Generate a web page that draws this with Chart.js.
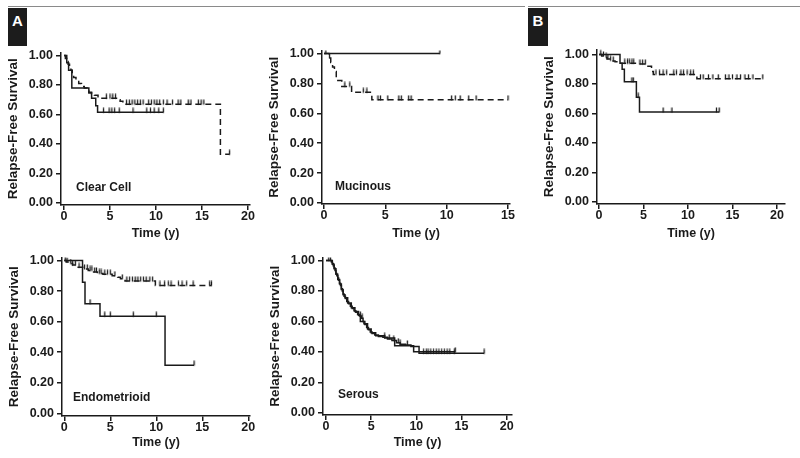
<!DOCTYPE html>
<html><head><meta charset="utf-8">
<script src="https://cdn.jsdelivr.net/npm/chart.js@4.4.1/dist/chart.umd.min.js"></script>
<style>
html,body{margin:0;padding:0;background:#fff;}
body{width:800px;height:458px;position:relative;overflow:hidden;font-family:"Liberation Sans",Arial,Helvetica,sans-serif;}
canvas{position:absolute;}
.rule{position:absolute;height:1px;background:#8a8a8a;top:6px;}
.tag{position:absolute;top:8px;width:19px;height:38px;background:#1c1c1c;color:#fff;font-weight:bold;font-size:15px;text-align:center;line-height:26px;}
.lbl{position:absolute;font-weight:bold;font-size:12px;color:#1a1a1a;line-height:14px;white-space:nowrap;}
</style></head><body>
<div class="rule" style="left:8px;width:517px;"></div>
<div class="rule" style="left:528px;width:272px;"></div>
<div class="tag" style="left:8px;">A</div>
<div class="tag" style="left:528px;width:20px;">B</div>
<canvas id="c1"></canvas><canvas id="c2"></canvas><canvas id="c3"></canvas><canvas id="c4"></canvas><canvas id="c5"></canvas>
<div class="lbl" style="left:76px;top:180px;">Clear Cell</div>
<div class="lbl" style="left:335px;top:179px;">Mucinous</div>
<div class="lbl" style="left:73px;top:390px;">Endometrioid</div>
<div class="lbl" style="left:338px;top:387px;">Serous</div>
<script>
// ---- tick labels ----
const xTicks20 = [0, 5, 10, 15, 20];
const xTicks15 = [0, 5, 10, 15];
const yTicks = [0, 0.2, 0.4, 0.6, 0.8, 1.0];

// ---- Clear Cell ----
const ccSolidT = [0, 0.3, 0.5, 0.85, 2.7, 3.0, 3.45, 3.65, 10.8];
const ccSolidS = [1.0, 0.95, 0.90, 0.78, 0.745, 0.71, 0.66, 0.615, 0.615];
const ccSolidC = [4.3, 4.9, 5.2, 5.5, 6.0, 7.5, 9.0, 9.4, 9.8, 10.3, 10.8];
const ccDashT = [0, 0.15, 0.3, 0.45, 0.6, 0.75, 0.9, 1.05, 1.3, 1.6, 1.9, 2.2, 2.5, 2.7, 3.0, 3.3, 3.7, 4.0, 5.8, 6.1, 6.4, 6.6, 17.0, 18.0];
const ccDashS = [1.0, 0.98, 0.96, 0.94, 0.92, 0.90, 0.87, 0.85, 0.83, 0.81, 0.79, 0.78, 0.76, 0.75, 0.74, 0.73, 0.72, 0.71, 0.70, 0.69, 0.68, 0.67, 0.33, 0.33];
const ccDashC = [4.6, 5.0, 5.3, 5.6, 6.8, 7.1, 7.4, 7.7, 8.0, 8.3, 8.6, 9.2, 9.5, 9.8, 10.1, 10.4, 10.8, 11.2, 11.8, 12.4, 12.7, 13.5, 13.8, 14.6, 14.9, 15.2, 18.0];

// ---- Mucinous ----
const mucSolidT = [0, 9.45];
const mucSolidS = [1.0, 1.0];
const mucSolidC = [9.45];
const mucDashT = [0, 0.4, 0.55, 0.7, 0.85, 1.0, 1.45, 2.25, 3.9, 15.0];
const mucDashS = [1.0, 0.97, 0.94, 0.91, 0.88, 0.82, 0.78, 0.74, 0.69, 0.69];
const mucDashC = [0.15, 0.45, 1.7, 2.1, 3.2, 3.5, 4.4, 4.6, 5.2, 6.1, 6.3, 6.9, 7.1, 10.4, 10.7, 11.1, 11.8, 12.4, 15.0];

// ---- B ----
const bSolidT = [0, 2.36, 2.6, 2.85, 4.2, 4.55, 13.5];
const bSolidS = [1.0, 0.94, 0.90, 0.815, 0.71, 0.61, 0.61];
const bSolidC = [3.7, 3.85, 4.4, 7.2, 8.2, 13.2, 13.5];
const bDashT = [0, 0.3, 0.6, 0.9, 1.2, 1.5, 1.8, 2.1, 4.3, 5.5, 5.9, 6.1, 11.0, 18.4];
const bDashS = [1.0, 0.99, 0.98, 0.97, 0.96, 0.955, 0.95, 0.94, 0.935, 0.92, 0.885, 0.865, 0.836, 0.836];
const bDashC = [0.2, 0.5, 0.8, 1.0, 1.3, 1.6, 2.9, 3.2, 3.4, 3.7, 3.9, 4.6, 4.9, 5.2, 6.4, 6.8, 7.2, 7.6, 8.4, 8.7, 9.2, 9.5, 9.9, 10.3, 10.6, 11.4, 11.7, 12.3, 12.8, 13.4, 14.2, 14.6, 15.0, 15.5, 15.9, 16.4, 16.8, 17.3, 18.4];

// ---- Endometrioid ----
const enSolidT = [0, 1.98, 2.25, 3.88, 10.95, 14.1];
const enSolidS = [1.0, 0.857, 0.717, 0.635, 0.315, 0.315];
const enSolidC = [2.8, 4.4, 5.0, 7.5, 10.0, 14.1];
const enDashT = [0, 0.2, 0.5, 0.9, 1.4, 2.1, 2.6, 3.1, 3.6, 4.2, 5.2, 5.8, 6.1, 6.6, 9.9, 16.0];
const enDashS = [1.0, 0.99, 0.98, 0.97, 0.955, 0.945, 0.935, 0.925, 0.915, 0.91, 0.90, 0.89, 0.88, 0.865, 0.837, 0.837];
const enDashC = [0.1, 0.3, 0.7, 0.9, 1.2, 1.6, 2.2, 2.5, 2.8, 3.0, 3.3, 3.5, 3.8, 4.0, 4.4, 4.7, 5.0, 5.5, 6.3, 6.8, 7.1, 7.4, 7.7, 8.0, 8.3, 8.6, 8.9, 9.3, 9.6, 10.4, 10.9, 11.3, 11.6, 12.4, 12.8, 13.3, 14.0, 15.8, 16.0];

// ---- Serous ----
const serT = [0, 0.6, 0.7, 0.8, 0.9, 1.0, 1.1, 1.2, 1.3, 1.4, 1.5, 1.6, 1.7, 1.8, 1.9, 2.0, 2.15, 2.3, 2.5, 2.7, 2.9, 3.1, 3.3, 3.5, 3.7, 3.9, 4.1, 4.3, 4.5, 4.7, 4.9, 5.1, 5.4, 5.8, 6.3, 6.8, 7.3, 7.8, 8.2, 8.8, 9.4, 10.3, 17.5];
const serS = [1.0, 0.99, 0.98, 0.965, 0.95, 0.935, 0.915, 0.90, 0.885, 0.87, 0.85, 0.835, 0.815, 0.80, 0.78, 0.765, 0.75, 0.73, 0.715, 0.70, 0.685, 0.67, 0.66, 0.645, 0.635, 0.62, 0.60, 0.58, 0.56, 0.545, 0.53, 0.52, 0.51, 0.50, 0.495, 0.485, 0.475, 0.46, 0.45, 0.445, 0.435, 0.39, 0.39];
const serC = [0.3, 0.5, 3.8, 4.0, 6.5, 7.0, 7.5, 8.0, 8.2, 9.0, 10.8, 11.1, 11.3, 11.6, 11.9, 12.2, 12.5, 12.8, 13.1, 13.4, 13.7, 14.2, 17.5];
const ser2T = [0, 0.7, 0.9, 1.1, 1.3, 1.5, 1.7, 1.9, 2.1, 2.4, 2.8, 3.2, 3.6, 3.8, 4.2, 4.6, 5.0, 5.5, 6.5, 7.6, 8.6, 9.7, 14.3];
const ser2S = [1.0, 0.975, 0.945, 0.91, 0.875, 0.845, 0.81, 0.775, 0.755, 0.72, 0.69, 0.665, 0.64, 0.60, 0.585, 0.55, 0.525, 0.505, 0.49, 0.44, 0.44, 0.40, 0.40];
const ser2C = [14.3];

// ---- drawing ----
const FONT = '"Liberation Sans", Arial, Helvetica, sans-serif';
const INK = '#1a1a1a';
// censor mark: short upward vertical tick
const tickMark = (() => {
  const c = document.createElement('canvas');
  c.width = 3; c.height = 10;
  const g = c.getContext('2d');
  g.strokeStyle = INK; g.lineWidth = 1.3;
  g.beginPath(); g.moveTo(1.5, 0.5); g.lineTo(1.5, 5.5); g.stroke();
  return c;
})();
function stepAt(T, S, t) { let v = S[0]; for (let i = 0; i < T.length; i++) if (T[i] <= t) v = S[i]; return v; }
function curveSets(T, S, C, dashed) {
  return [
    { data: T.map((t, i) => ({ x: t, y: S[i] })), showLine: true, stepped: true, borderColor: INK, borderWidth: 1.5,
      borderDash: dashed ? [6, 4] : [], pointRadius: 0, fill: false },
    { data: C.map(t => ({ x: t, y: stepAt(T, S, t) })), showLine: false, pointStyle: tickMark,
      pointRadius: 4, borderColor: INK, backgroundColor: INK }
  ];
}
function panel(id, g, xTicks, datasets) {
  const ppx = (g.xT - g.x0) / g.xTv;
  const xmin = (g.l - g.x0) / ppx, xmax = (g.r - g.x0) / ppx;
  const ppy = g.y0 - g.y1;
  const ymax = (g.y0 - g.t) / ppy, ymin = (g.y0 - g.b) / ppy;
  const cl = g.l - 61, ct = g.t - 10, cw = g.r + 12 - cl, ch = g.cb - ct;
  const cv = document.getElementById(id);
  cv.width = cw; cv.height = ch; cv.style.left = cl + 'px'; cv.style.top = ct + 'px';
  cv.style.width = cw + 'px'; cv.style.height = ch + 'px';
  const xh = g.cb - g.b;
  const tf = { family: FONT, size: 12.5, weight: 'bold' };
  new Chart(cv, {
    type: 'scatter',
    data: { datasets },
    options: {
      responsive: false, animation: false, devicePixelRatio: 1, events: [],
      layout: { padding: { top: 10, right: 12, left: 0, bottom: 0 } },
      plugins: { legend: { display: false }, tooltip: { enabled: false } },
      scales: {
        x: { type: 'linear', min: xmin, max: xmax,
          afterBuildTicks: s => { s.ticks = xTicks.map(v => ({ value: v })); },
          afterFit: s => { s.height = xh; },
          border: { display: true, color: INK, width: 1.5 },
          grid: { display: true, drawOnChartArea: false, drawTicks: true, tickLength: 5, color: INK, lineWidth: 1.5 },
          ticks: { color: INK, font: tf, padding: -1, maxRotation: 0, autoSkip: false, callback: v => String(v) },
          title: { display: true, text: 'Time (y)', color: INK, font: tf, padding: { top: 0, bottom: (g.cb - g.titleY) - 7.5 } } },
        y: { type: 'linear', min: ymin, max: ymax,
          afterBuildTicks: s => { s.ticks = yTicks.map(v => ({ value: v })); },
          afterFit: s => { s.width = 61; },
          border: { display: true, color: INK, width: 1.5 },
          grid: { display: true, drawOnChartArea: false, drawTicks: true, tickLength: 5, color: INK, lineWidth: 1.5 },
          ticks: { color: INK, font: tf, padding: 3, autoSkip: false, callback: v => v.toFixed(2) },
          title: { display: true, text: 'Relapse-Free Survival', color: INK, font: { family: FONT, size: 13.5, weight: 'bold' }, padding: { top: 5, bottom: 0 } } }
      }
    }
  });
}

panel('c1', { l: 61, r: 250, t: 52, b: 205, x0: 64, xT: 248, xTv: 20, y1: 55, y0: 203, cb: 250, titleY: 234 }, xTicks20,
  [...curveSets(ccSolidT, ccSolidS, ccSolidC, false), ...curveSets(ccDashT, ccDashS, ccDashC, true)]);
panel('c2', { l: 322, r: 510, t: 50, b: 204, x0: 324, xT: 508, xTv: 15, y1: 53, y0: 203, cb: 250, titleY: 234 }, xTicks15,
  [...curveSets(mucSolidT, mucSolidS, mucSolidC, false), ...curveSets(mucDashT, mucDashS, mucDashC, true)]);
panel('c3', { l: 597, r: 785, t: 49, b: 204, x0: 599, xT: 777, xTv: 20, y1: 54, y0: 202, cb: 250, titleY: 234 }, xTicks20,
  [...curveSets(bSolidT, bSolidS, bSolidC, false), ...curveSets(bDashT, bDashS, bDashC, true)]);
panel('c4', { l: 62, r: 250, t: 257, b: 416, x0: 64.3, xT: 248.3, xTv: 20, y1: 260, y0: 413.3, cb: 458, titleY: 443 }, xTicks20,
  [...curveSets(enSolidT, enSolidS, enSolidC, false), ...curveSets(enDashT, enDashS, enDashC, true)]);
panel('c5', { l: 323, r: 512, t: 257, b: 415, x0: 326, xT: 506.7, xTv: 20, y1: 260, y0: 412.7, cb: 458, titleY: 443 }, xTicks20,
  [...curveSets(serT, serS, serC, false), ...curveSets(ser2T, ser2S, ser2C, false)]);
</script>
</body></html>
